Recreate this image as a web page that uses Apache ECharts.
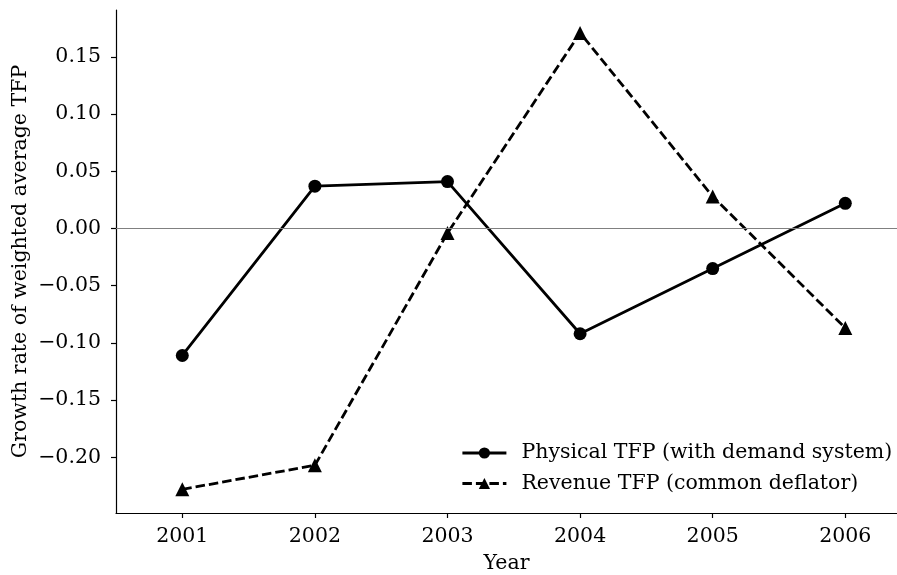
<!DOCTYPE html>
<html>
<head>
<meta charset="utf-8">
<script src="https://cdn.jsdelivr.net/npm/echarts@6/dist/echarts.min.js"></script>
<style>html,body{margin:0;padding:0;background:#fff}#c{width:897px;height:575px}</style>
</head>
<body>
<div id="c"></div>
<script>
const years = [2001, 2002, 2003, 2004, 2005, 2006];
const physicalTFP = [-0.111, 0.037, 0.041, -0.092, -0.035, 0.022];
const revenueTFP = [-0.228, -0.207, -0.004, 0.171, 0.028, -0.087];
const yTicks = [-0.20, -0.15, -0.10, -0.05, 0.00, 0.05, 0.10, 0.15];
const seriesNames = ['Physical TFP (with demand system)', 'Revenue TFP (common deflator)'];

const FONT = 'DejaVu Serif';
const FS = 20.5;
const chart = echarts.init(document.getElementById('c'), null, {renderer: 'canvas'});
const fmt = v => v.toFixed(2).replace('-', '\u2212');

chart.setOption({
  animation: false,
  backgroundColor: '#ffffff',
  textStyle: {fontFamily: FONT, color: '#000'},
  grid: {left: 116, right: 0, top: 10, bottom: 62, containLabel: false, outerBoundsMode: 'none'},
  legend: {
    orient: 'vertical',
    left: 456,
    top: 437,
    itemWidth: 44,
    itemHeight: 14,
    itemGap: 8.5,
    lineStyle: {width: 2.8},
    textStyle: {fontFamily: FONT, fontSize: FS, color: '#000', lineHeight: 22, padding: [0, 0, 0, 10]},
    data: seriesNames
  },
  xAxis: {
    type: 'value',
    min: 2000.5,
    max: 2006.39,
    name: 'Year',
    nameLocation: 'middle',
    nameGap: 40,
    nameMoveOverlap: false,
    nameTextStyle: {fontFamily: FONT, fontSize: FS, color: '#000'},
    splitLine: {show: false},
    axisLine: {show: true, onZero: false, lineStyle: {color: '#000', width: 1.2}},
    axisTick: {show: true, length: 5, customValues: years, lineStyle: {color: '#000', width: 1.2}},
    axisLabel: {customValues: years, margin: 13, fontFamily: FONT, fontSize: FS, color: '#000', formatter: v => String(v)}
  },
  yAxis: {
    type: 'value',
    min: -0.2487,
    max: 0.191,
    name: 'Growth rate of weighted average TFP',
    nameLocation: 'middle',
    nameGap: 85,
    nameMoveOverlap: false,
    nameRotate: 90,
    nameTextStyle: {fontFamily: FONT, fontSize: FS, color: '#000'},
    splitLine: {show: false},
    axisLine: {show: true, onZero: false, lineStyle: {color: '#000', width: 1.2}},
    axisTick: {show: true, length: 5, customValues: yTicks, lineStyle: {color: '#000', width: 1.2}},
    axisLabel: {customValues: yTicks, margin: 15, fontFamily: FONT, fontSize: FS, color: '#000', formatter: v => fmt(v)}
  },
  series: [
    {
      type: 'line',
      name: '__zero',
      data: [],
      z: 1,
      silent: true,
      markLine: {
        silent: true,
        symbol: 'none',
        label: {show: false},
        lineStyle: {color: '#808080', width: 1.2, type: 'solid'},
        data: [{yAxis: 0}]
      }
    },
    {
      type: 'line',
      name: seriesNames[0],
      z: 3,
      data: years.map((y, i) => [y, physicalTFP[i]]),
      symbol: 'circle',
      symbolSize: 13,
      itemStyle: {color: '#000'},
      lineStyle: {color: '#000', width: 2.8, type: 'solid'}
    },
    {
      type: 'line',
      name: seriesNames[1],
      z: 3,
      data: years.map((y, i) => [y, revenueTFP[i]]),
      symbol: 'triangle',
      symbolSize: 14,
      itemStyle: {color: '#000'},
      lineStyle: {color: '#000', width: 2.8, type: [9.5, 4]}
    }
  ]
});
</script>
</body>
</html>
